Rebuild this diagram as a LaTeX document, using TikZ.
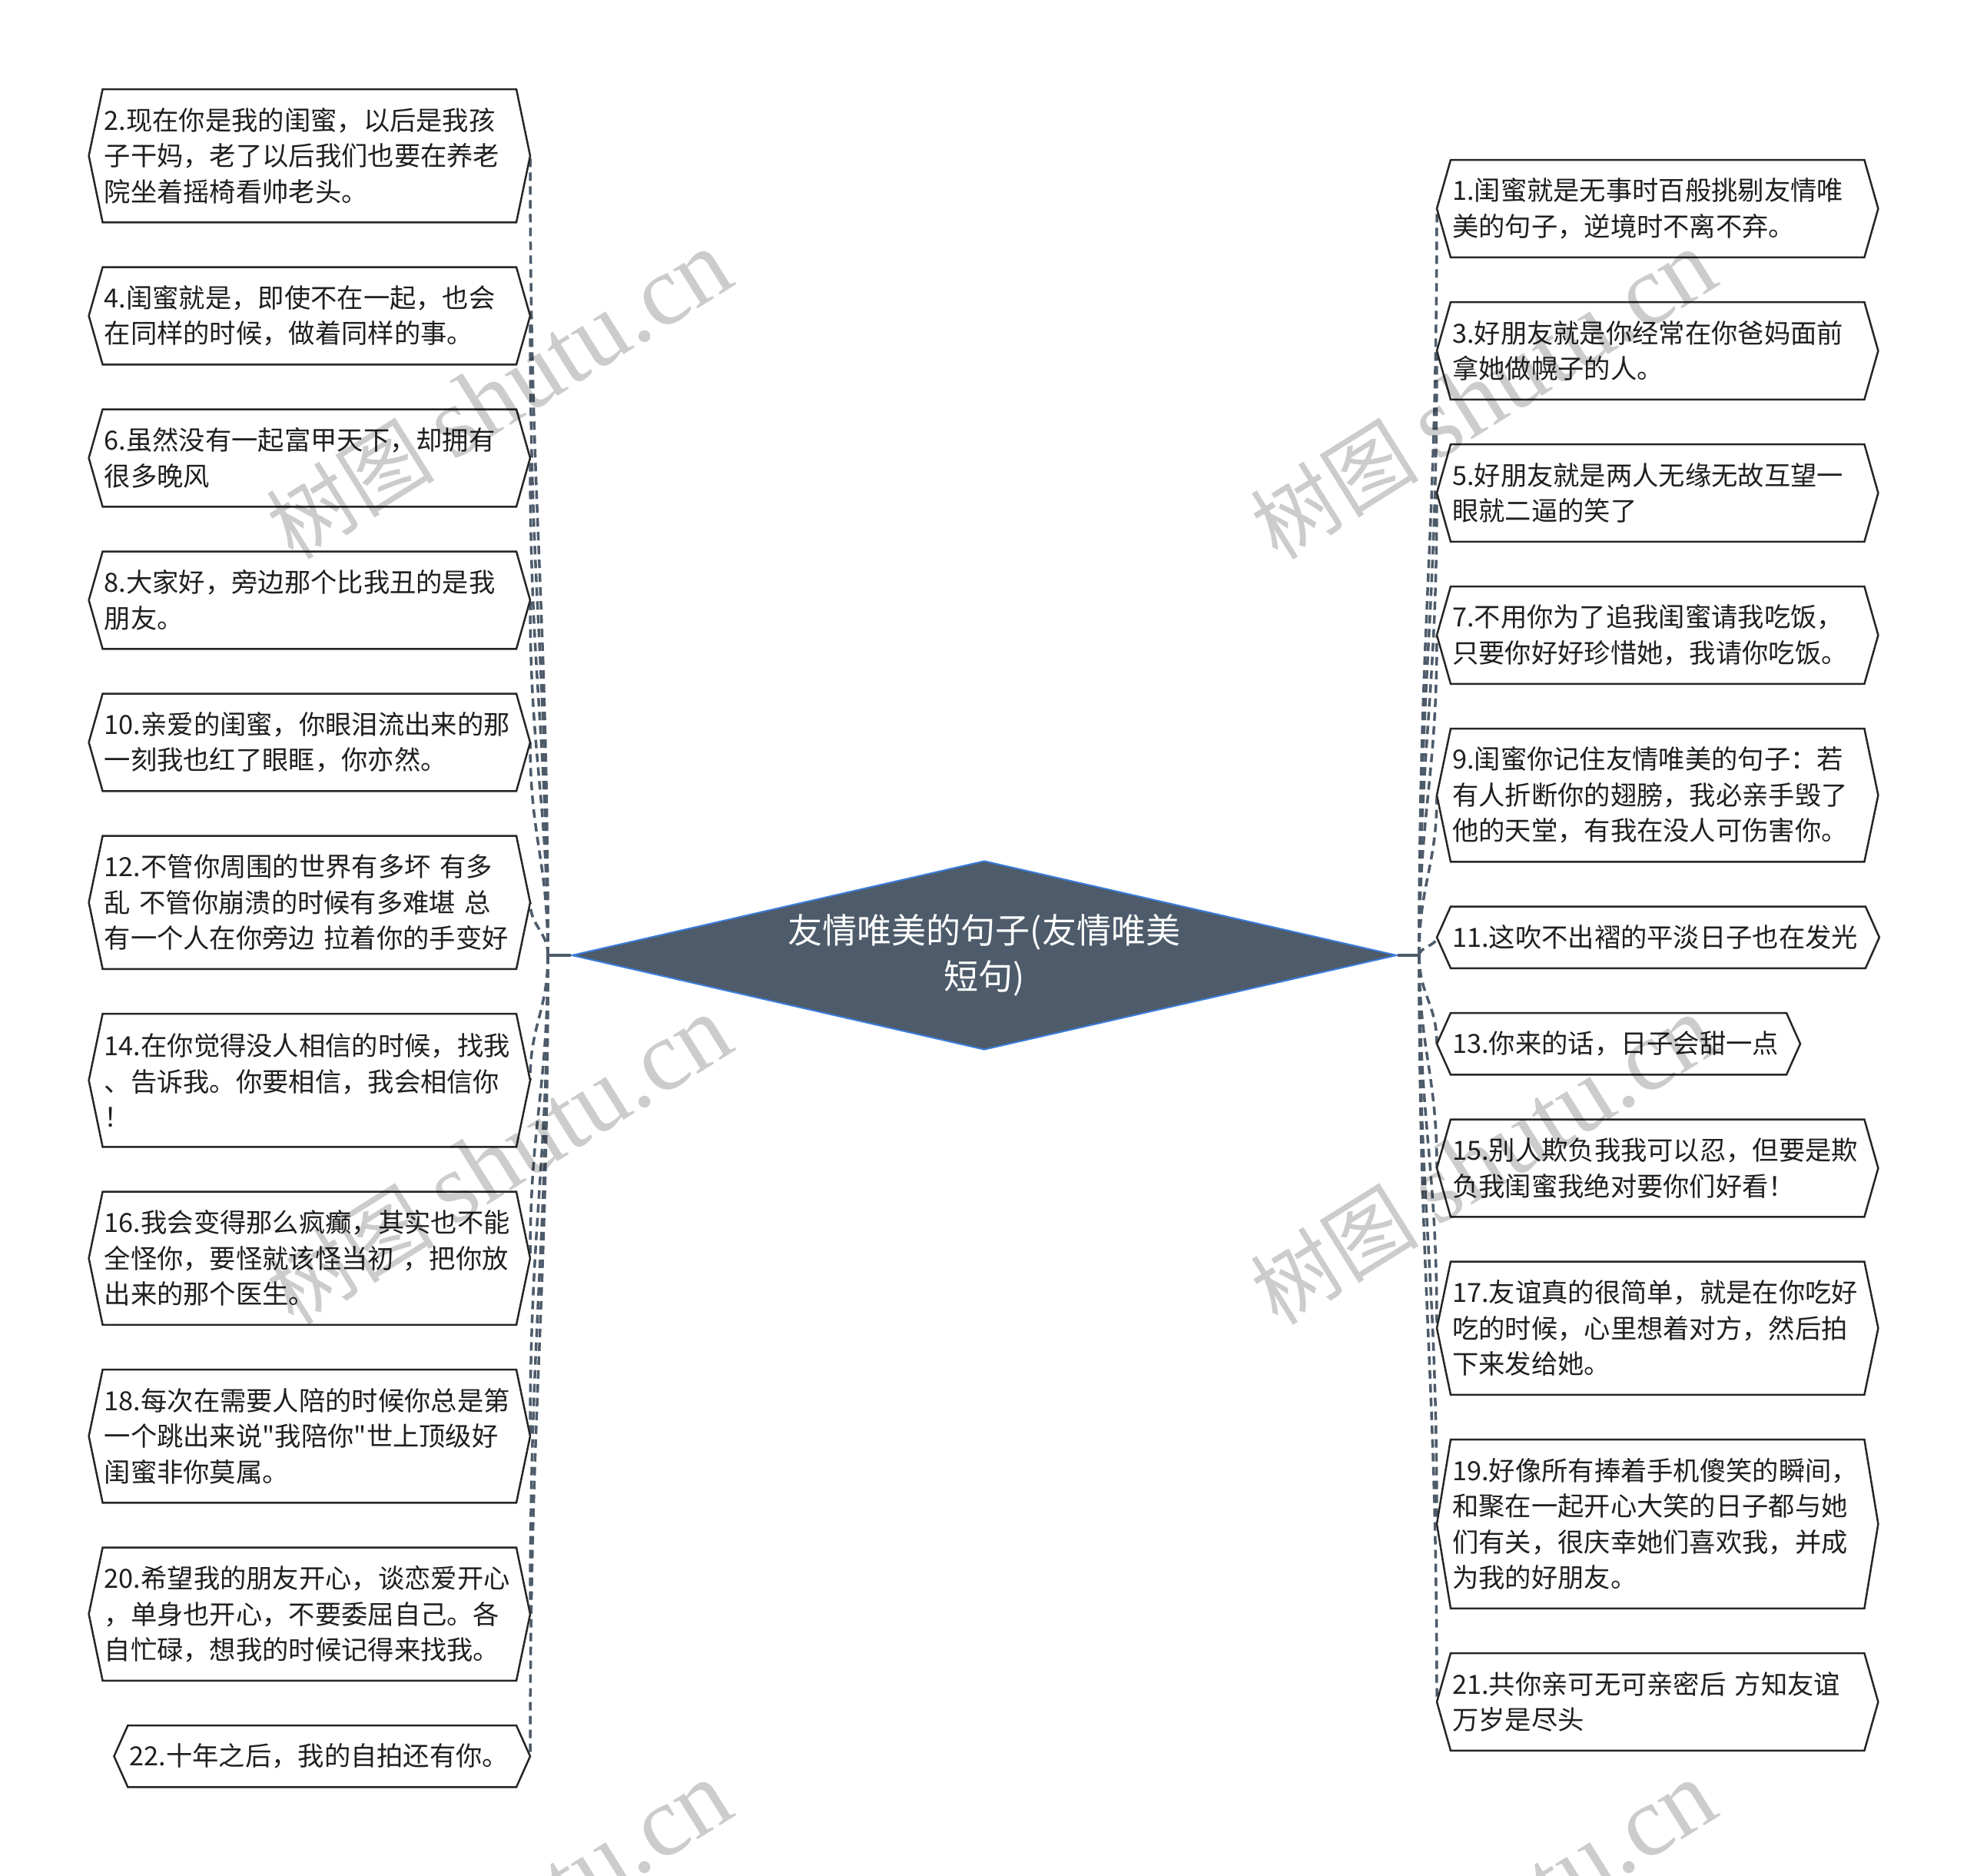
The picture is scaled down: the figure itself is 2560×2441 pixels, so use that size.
\documentclass[tikz,border=0pt]{standalone}
\usepackage{fontspec}
\setmainfont{Noto Sans CJK SC}[Ligatures=TeXOff]
\newfontfamily\markserif{Liberation Serif}
\usetikzlibrary{matrix,backgrounds,positioning,shapes.geometric,calc}
\definecolor{slate}{RGB}{77,91,106}
\definecolor{rim}{RGB}{59,125,221}

\begin{document}
\begin{tikzpicture}[x=1pt,y=-1pt,
leaf/.style={align=left,inner xsep=2pt,inner ysep=2pt,minimum height=80pt,
  font=\fontsize{34.3pt}{46.5pt}\selectfont,text=black!88},
wrapped/.style={text width=534pt,minimum height={46.5pt*#1+33.5pt}},
leafcol/.style={matrix of nodes,inner sep=0pt,row sep=58.5pt},
hub/.style={diamond,aspect=4.36,inner sep=0pt,minimum width=1074pt,
  minimum height=246pt,fill=slate,draw=rim,line width=2pt,text=white,
  align=center,font=\fontsize{45pt}{60pt}\selectfont},
hex/.style={draw=black!85,line width=2.5pt,fill=white},
link/.style={draw=slate,line width=3.5pt,dash pattern=on 11pt off 7pt},
stub/.style={draw=slate,line width=3.5pt},
wmark/.style={text=black,text opacity=.2,rotate=32,
  font=\fontsize{110pt}{110pt}\selectfont}]
\useasboundingbox (0,0) rectangle (2560,2441);

\node[hub] (hub) at (1281,1243) {友情唯美的句子(友情唯美\\短句)};
\coordinate[left=30pt of hub.west] (lhub);
\coordinate[right=28pt of hub.east] (rhub);

% even numbers on the left
\matrix[leafcol,nodes={leaf,anchor=east},anchor=north east] (evens) at (672,116) {
|[wrapped=3]| {2.现在你是我的闺蜜，以后是我孩\\子干妈，老了以后我们也要在养老\\院坐着摇椅看帅老头。} \\
|[wrapped=2]| {4.闺蜜就是，即使不在一起，也会\\在同样的时候，做着同样的事。} \\
|[wrapped=2]| {6.虽然没有一起富甲天下，却拥有\\很多晚风} \\
|[wrapped=2]| {8.大家好，旁边那个比我丑的是我\\朋友。} \\
|[wrapped=2]| {10.亲爱的闺蜜，你眼泪流出来的那\\一刻我也红了眼眶，你亦然。} \\
|[wrapped=3]| {12.不管你周围的世界有多坏 有多\\乱 不管你崩溃的时候有多难堪 总\\有一个人在你旁边 拉着你的手变好} \\
|[wrapped=3]| {14.在你觉得没人相信的时候，找我\\、告诉我。你要相信，我会相信你\\！} \\
|[wrapped=3]| {16.我会变得那么疯癫，其实也不能\\全怪你，要怪就该怪当初 ，把你放\\出来的那个医生。} \\
|[wrapped=3]| {18.每次在需要人陪的时候你总是第\\一个跳出来说"我陪你"世上顶级好\\闺蜜非你莫属。} \\
|[wrapped=3]| {20.希望我的朋友开心，谈恋爱开心\\，单身也开心，不要委屈自己。各\\自忙碌，想我的时候记得来找我。} \\
22.十年之后，我的自拍还有你。 \\
};

% odd numbers on the right
\matrix[leafcol,nodes={leaf,anchor=west},anchor=north west] (odds) at (1888,208) {
|[wrapped=2]| {1.闺蜜就是无事时百般挑剔友情唯\\美的句子，逆境时不离不弃。} \\
|[wrapped=2]| {3.好朋友就是你经常在你爸妈面前\\拿她做幌子的人。} \\
|[wrapped=2]| {5.好朋友就是两人无缘无故互望一\\眼就二逼的笑了} \\
|[wrapped=2]| {7.不用你为了追我闺蜜请我吃饭，\\只要你好好珍惜她，我请你吃饭。} \\
|[wrapped=3]| {9.闺蜜你记住友情唯美的句子：若\\有人折断你的翅膀，我必亲手毁了\\他的天堂，有我在没人可伤害你。} \\
11.这吹不出褶的平淡日子也在发光 \\
13.你来的话，日子会甜一点 \\
|[wrapped=2]| {15.别人欺负我我可以忍，但要是欺\\负我闺蜜我绝对要你们好看！} \\
|[wrapped=3]| {17.友谊真的很简单，就是在你吃好\\吃的时候，心里想着对方，然后拍\\下来发给她。} \\
|[wrapped=4]| {19.好像所有捧着手机傻笑的瞬间，\\和聚在一起开心大笑的日子都与她\\们有关，很庆幸她们喜欢我，并成\\为我的好朋友。} \\
|[wrapped=2]| {21.共你亲可无可亲密后 方知友谊\\万岁是尽头} \\
};

\draw[stub] (hub.west) -- (lhub);
\draw[stub] (hub.east) -- (rhub);

\begin{scope}[on background layer]
\fill[white] (0,0) rectangle (2560,2441);
\foreach \k in {1,...,11}{
  \coordinate (etip\k) at ([xshift=18pt]evens-\k-1.east);
  \coordinate (otip\k) at ([xshift=-18pt]odds-\k-1.west);
  \draw[link] (lhub) .. controls ($(lhub)!.45!(lhub|-etip\k)$)
    and ($(etip\k)!.45!(etip\k|-lhub)$) .. (etip\k);
  \draw[link] (rhub) .. controls ($(rhub)!.45!(rhub|-otip\k)$)
    and ($(otip\k)!.45!(otip\k|-rhub)$) .. (otip\k);
}
\foreach \k in {1,...,11}
  \foreach \m in {evens,odds}
    \draw[hex] (\m-\k-1.north west) -- (\m-\k-1.north east)
      -- ([xshift=18pt]\m-\k-1.east) -- (\m-\k-1.south east)
      -- (\m-\k-1.south west) -- ([xshift=-18pt]\m-\k-1.west) -- cycle;
\end{scope}

% watermarks
\foreach \x in {649,1930}
  \foreach \y in {514,1510,2506}
    \node[wmark] (wm\x\y) at (\x,\y) {树图 {\markserif\fontsize{130pt}{130pt}\selectfont shutu.cn}};
\end{tikzpicture}
\end{document}
